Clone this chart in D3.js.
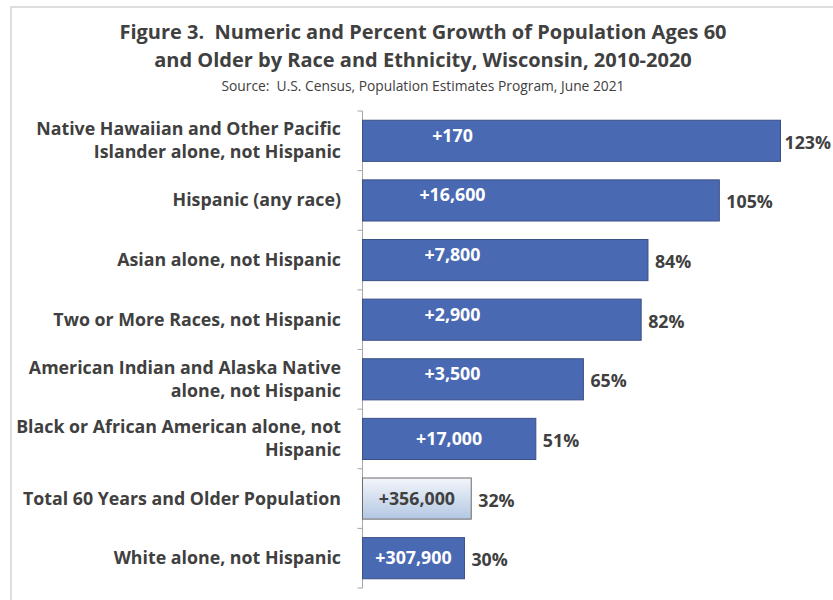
<!DOCTYPE html>
<html>
<head>
<meta charset="utf-8">
<script src="https://cdn.jsdelivr.net/npm/d3@7"></script>
<style>
body { margin: 0; background: #fff; }
svg text { font-family: "Open Sans", "Noto Sans", sans-serif; white-space: pre; }
</style>
</head>
<body>
<svg id="chart" width="833" height="600"></svg>
<script>
// data, top to bottom
const categories = [
  ["Native Hawaiian and Other Pacific", "Islander alone, not Hispanic"],
  ["Hispanic (any race)"],
  ["Asian alone, not Hispanic"],
  ["Two or More Races, not Hispanic"],
  ["American Indian and Alaska Native", "alone, not Hispanic"],
  ["Black or African American alone, not", "Hispanic"],
  ["Total 60 Years and Older Population"],
  ["White alone, not Hispanic"]
];
const pctGrowth = [123, 105, 84, 82, 65, 51, 32, 30];
const numGrowth = ["+170", "+16,600", "+7,800", "+2,900", "+3,500", "+17,000", "+356,000", "+307,900"];
const totalIndex = 6;

const svg = d3.select("#chart");
const txt = "#404040";
const labelSize = 17.8;

// outer frame
svg.append("rect")
  .attr("x", 11).attr("y", 7)
  .attr("width", 840).attr("height", 620)
  .attr("fill", "none").attr("stroke", "#d4d4d4").attr("stroke-width", 1.5);

// gradient for total bar
const grad = svg.append("defs").append("linearGradient")
  .attr("id", "totalGrad").attr("x1", 0).attr("y1", 0).attr("x2", 0).attr("y2", 1);
grad.append("stop").attr("offset", "0%").attr("stop-color", "#f3f6fb");
grad.append("stop").attr("offset", "100%").attr("stop-color", "#b3c7e2");

// titles
svg.append("text").attr("x", 423).attr("y", 39).attr("text-anchor", "middle")
  .attr("font-size", 20).attr("font-weight", "bold").attr("fill", txt)
  .text("Figure 3.  Numeric and Percent Growth of Population Ages 60");
svg.append("text").attr("x", 423).attr("y", 67).attr("text-anchor", "middle")
  .attr("font-size", 20).attr("font-weight", "bold").attr("fill", txt)
  .text("and Older by Race and Ethnicity, Wisconsin, 2010-2020");
svg.append("text").attr("x", 423).attr("y", 91).attr("text-anchor", "middle")
  .attr("font-size", 13.8).attr("fill", txt)
  .text("Source:  U.S. Census, Population Estimates Program, June 2021");

const x0 = 362.5;
const x = d3.scaleLinear().domain([0, 123]).range([x0, 780.5]);
const y = d3.scaleBand().domain(d3.range(categories.length))
  .range([111, 588]).paddingInner(0.31).paddingOuter(0.155);

// axis with ticks at band edges
const step = y.step();
const edges = d3.range(categories.length + 1).map(i => 111 + i * step);
svg.append("line").attr("x1", x0).attr("x2", x0).attr("y1", 111).attr("y2", 588)
  .attr("stroke", "#a6a6a6");
svg.selectAll(".tick").data(edges).join("line").attr("class", "tick")
  .attr("x1", x0 - 5).attr("x2", x0).attr("y1", d => d).attr("y2", d => d)
  .attr("stroke", "#a6a6a6");

// bars
svg.selectAll(".bar").data(pctGrowth).join("rect").attr("class", "bar")
  .attr("x", x0)
  .attr("y", (d, i) => y(i))
  .attr("width", d => x(d) - x0)
  .attr("height", y.bandwidth())
  .attr("fill", (d, i) => i === totalIndex ? "url(#totalGrad)" : "#4a69b3")
  .attr("stroke", (d, i) => i === totalIndex ? "#6b6b6b" : "#3b4f85")
  .attr("stroke-width", 1);

// category labels
categories.forEach((lines, i) => {
  const cy = y(i) + y.bandwidth() / 2;
  const lh = 23;
  const t = svg.append("text").attr("text-anchor", "end")
    .attr("font-size", labelSize).attr("font-weight", "bold").attr("fill", txt);
  lines.forEach((l, j) => {
    t.append("tspan").attr("x", 341)
      .attr("y", cy + 6 + (j - (lines.length - 1) / 2) * lh)
      .text(l);
  });
});

// percent labels (kept inside the chart area on the right)
svg.selectAll(".pct").data(pctGrowth).join("text").attr("class", "pct")
  .attr("y", (d, i) => y(i) + y.bandwidth() / 2 + 8)
  .attr("font-size", labelSize).attr("font-weight", "bold").attr("fill", txt)
  .text(d => d + "%")
  .attr("x", function(d) {
    const w = this.getComputedTextLength();
    return Math.min(x(d) + 7, 831 - w);
  });

// numeric labels inside bars
svg.selectAll(".num").data(numGrowth).join("text").attr("class", "num")
  .attr("font-size", labelSize).attr("font-weight", "bold")
  .attr("fill", (d, i) => i === totalIndex ? txt : "#fff")
  .attr("y", (d, i) => {
    const w = x(pctGrowth[i]) - x0;
    return y(i) + y.bandwidth() / 2 + (w > 200 ? 1 : 6);
  })
  .attr("x", (d, i) => {
    const w = x(pctGrowth[i]) - x0;
    return w > 200 ? x0 + 90 : x0 + w / 2;
  })
  .attr("text-anchor", "middle")
  .text(d => d);
</script>
</body>
</html>
